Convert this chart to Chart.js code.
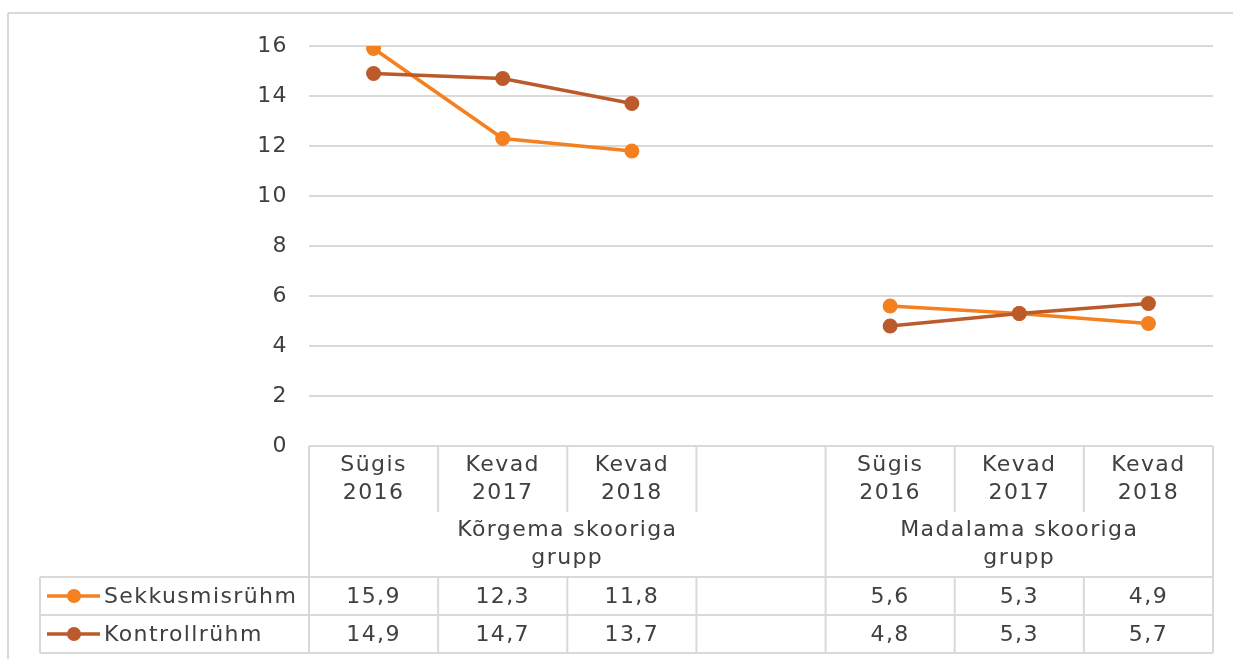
<!DOCTYPE html>
<html>
<head>
<meta charset="utf-8">
<script src="https://cdn.jsdelivr.net/npm/chart.js@4"></script>
<style>
  html, body { margin: 0; padding: 0; background: #fff; }
  #wrap { width: 1233px; height: 659px; }
</style>
</head>
<body>
<div id="wrap"><canvas id="linechart" width="1233" height="659"></canvas></div>
<script>
// data
var categories = [['Sügis', '2016'], ['Kevad', '2017'], ['Kevad', '2018'], ['', ''],
                  ['Sügis', '2016'], ['Kevad', '2017'], ['Kevad', '2018']];
var groupNames = [['Kõrgema skooriga', 'grupp'], ['Madalama skooriga', 'grupp']];
var groupStart = [0, 4];
var groupEnd = [3, 6];
var seriesNames = ['Sekkusmisrühm', 'Kontrollrühm'];
var sekkus = [15.9, 12.3, 11.8, null, 5.6, 5.3, 4.9];
var kontroll = [14.9, 14.7, 13.7, null, 4.8, 5.3, 5.7];
var yTicks = [0, 2, 4, 6, 8, 10, 12, 14, 16];

var colors = ['#F4801F', '#BB5A2A'];
var textColor = '#404040';
var lineColor = '#d9d9d9';
var fontFamily = "'DejaVu Sans', sans-serif";
var fontSize = 22;
var spacing = '1.4px';

function fmt(v) {
  return v === null ? '' : v.toFixed(1).replace('.', ',');
}

var tablePlugin = {
  id: 'dataTable',
  beforeDraw: function(chart) {
    // wider text, closer to the original font
    chart.ctx.letterSpacing = spacing;
  },
  afterDraw: function(chart) {
    var ctx = chart.ctx;
    var xs = chart.scales.x;
    var area = chart.chartArea;
    var n = categories.length;

    var rowTop = area.bottom;      // top of category row
    var catBottom = rowTop + 66;   // end of category cells
    var grpBottom = rowTop + 131;  // end of group row
    var row1 = grpBottom + 38;
    var row2 = row1 + 38;
    var legendLeft = 40;

    // cell edges from the scale
    var edges = [area.left];
    for (var i = 0; i < n - 1; i++) {
      edges.push((xs.getPixelForValue(i) + xs.getPixelForValue(i + 1)) / 2);
    }
    edges.push(area.right);

    ctx.save();
    ctx.letterSpacing = spacing;
    ctx.strokeStyle = lineColor;
    ctx.lineWidth = 2;

    function line(x1, y1, x2, y2) {
      ctx.beginPath();
      ctx.moveTo(x1, y1);
      ctx.lineTo(x2, y2);
      ctx.stroke();
    }

    // outer chart border (top and left)
    line(8, 13, chart.width, 13);
    line(8, 13, 8, chart.height);

    // horizontal table lines
    line(area.left, rowTop, area.right, rowTop);
    line(legendLeft, grpBottom, area.right, grpBottom);
    line(legendLeft, row1, area.right, row1);
    line(legendLeft, row2, area.right, row2);

    // vertical table lines
    line(legendLeft, grpBottom, legendLeft, row2);
    for (var e = 0; e < edges.length; e++) {
      var full = (e === 0 || e === edges.length - 1 || e === groupStart[1]);
      if (full) {
        line(edges[e], rowTop, edges[e], row2);
      } else {
        line(edges[e], rowTop, edges[e], catBottom);
        line(edges[e], grpBottom, edges[e], row2);
      }
    }

    ctx.fillStyle = textColor;
    ctx.font = fontSize + 'px ' + fontFamily;
    ctx.textAlign = 'center';
    ctx.textBaseline = 'middle';

    // category labels
    for (var c = 0; c < n; c++) {
      var cx = xs.getPixelForValue(c);
      ctx.fillText(categories[c][0], cx, rowTop + 19);
      ctx.fillText(categories[c][1], cx, rowTop + 47);
    }

    // group labels
    for (var g = 0; g < groupNames.length; g++) {
      var gx = (edges[groupStart[g]] + edges[groupEnd[g] + 1]) / 2;
      ctx.fillText(groupNames[g][0], gx, catBottom + 18);
      ctx.fillText(groupNames[g][1], gx, catBottom + 46);
    }

    // data rows
    var rows = [sekkus, kontroll];
    var rowMid = [(grpBottom + row1) / 2, (row1 + row2) / 2];
    for (var r = 0; r < rows.length; r++) {
      ctx.textAlign = 'center';
      ctx.fillStyle = textColor;
      for (var k = 0; k < n; k++) {
        ctx.fillText(fmt(rows[r][k]), xs.getPixelForValue(k), rowMid[r] + 1);
      }
      // legend key
      ctx.strokeStyle = colors[r];
      ctx.lineWidth = 3.5;
      line(47, rowMid[r], 100, rowMid[r]);
      ctx.fillStyle = colors[r];
      ctx.beginPath();
      ctx.arc(74, rowMid[r], 7, 0, Math.PI * 2);
      ctx.fill();
      ctx.fillStyle = textColor;
      ctx.textAlign = 'left';
      ctx.fillText(seriesNames[r], 104, rowMid[r] + 1);
      ctx.strokeStyle = lineColor;
      ctx.lineWidth = 2;
    }
    ctx.restore();
  }
};

var ctx = document.getElementById('linechart');
var lineChart = new Chart(ctx, {
  type: 'line',
  data: {
    labels: categories.map(function(c) { return c.join(' '); }),
    datasets: [
      {
        label: seriesNames[0],
        data: sekkus,
        borderColor: colors[0],
        backgroundColor: colors[0],
        borderWidth: 3.5,
        pointRadius: 7.5,
        pointBorderWidth: 0,
        order: 1
      },
      {
        label: seriesNames[1],
        data: kontroll,
        borderColor: colors[1],
        backgroundColor: colors[1],
        borderWidth: 3.5,
        pointRadius: 7.5,
        pointBorderWidth: 0,
        order: 0
      }
    ]
  },
  options: {
    responsive: false,
    animation: false,
    spanGaps: false,
    layout: { padding: { left: 0, right: 20, top: 46, bottom: 213 } },
    plugins: {
      legend: { display: false },
      tooltip: { enabled: false }
    },
    scales: {
      x: { type: 'category', offset: true, display: false },
      y: {
        min: 0,
        max: 16,
        afterBuildTicks: function(scale) {
          scale.ticks = yTicks.map(function(v) { return { value: v }; });
        },
        afterFit: function(scale) { scale.width = 309; },
        border: { display: false },
        grid: { color: lineColor, lineWidth: 2, drawTicks: false },
        ticks: {
          padding: 21,
          color: textColor,
          font: { family: fontFamily, size: fontSize }
        }
      }
    }
  },
  plugins: [tablePlugin]
});
</script>
</body>
</html>
